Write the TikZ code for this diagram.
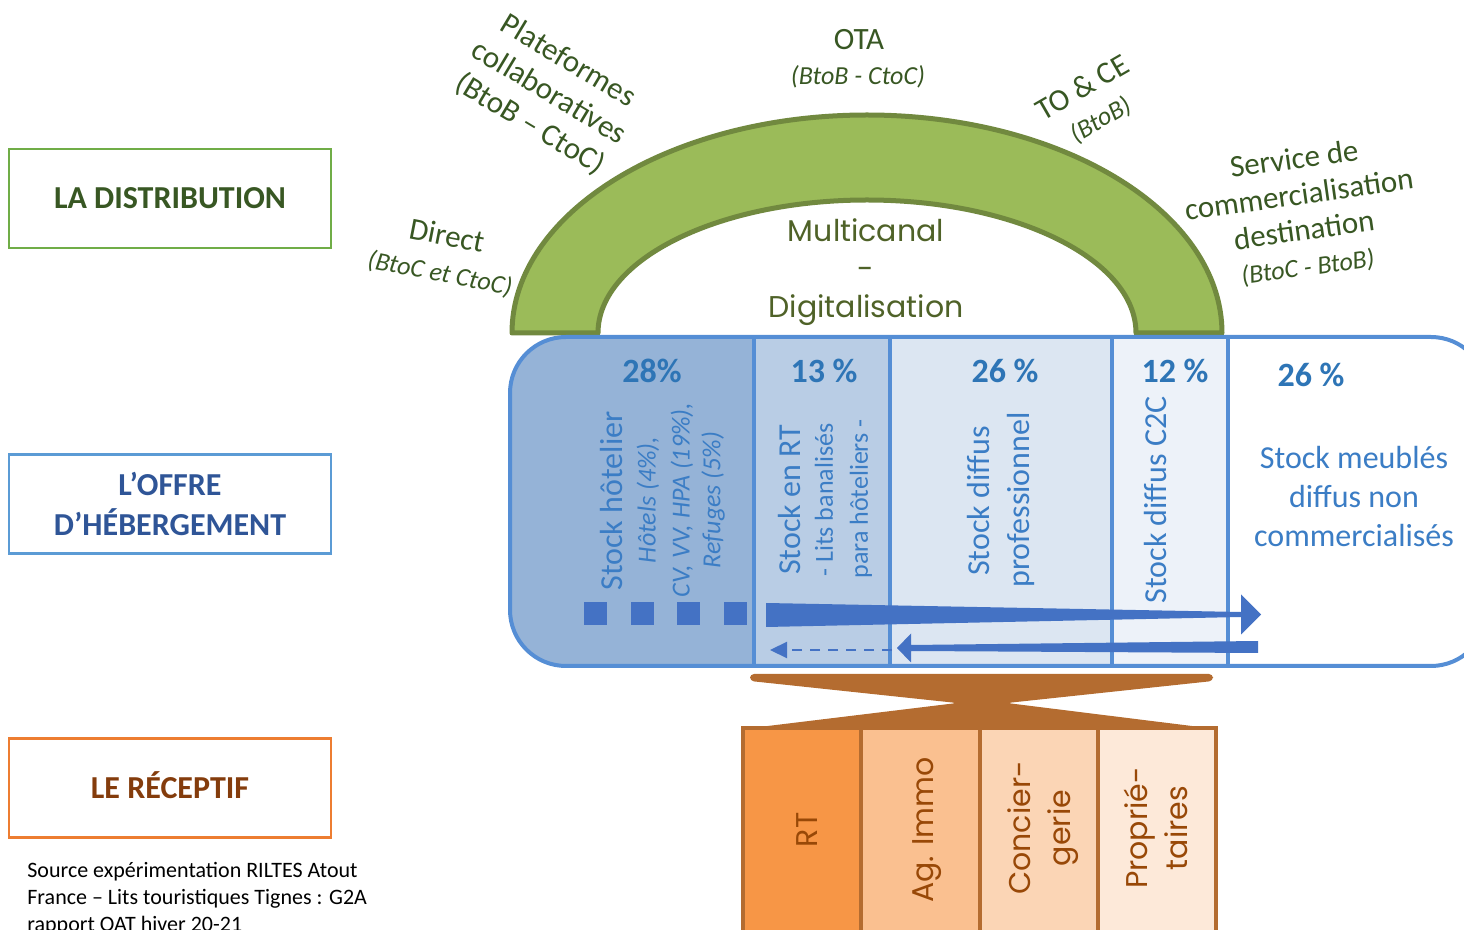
\documentclass[tikz,border=0pt]{standalone}
\usepackage{fontspec}
\setmainfont{Carlito}
\newfontfamily\gothique{Poppins}
\usetikzlibrary{arrows.meta,calc}

% Couleurs
\definecolor{vertfonce}{HTML}{385723}
\definecolor{vertarc}{HTML}{9BBB59}
\definecolor{vertbord}{HTML}{71893F}
\definecolor{olive}{HTML}{4F6228}
\definecolor{vertcadre}{HTML}{70AD47}
\definecolor{bleucadre}{HTML}{5B9BD5}
\definecolor{bleufonce}{HTML}{2F5597}
\definecolor{bleutrait}{HTML}{558ED5}
\definecolor{bleupct}{HTML}{2E75B6}
\definecolor{bleutexte}{HTML}{3B7DC5}
\definecolor{bleuA}{HTML}{95B3D7}
\definecolor{bleuB}{HTML}{B9CDE5}
\definecolor{bleuC}{HTML}{DCE6F2}
\definecolor{bleuD}{HTML}{EDF2F9}
\definecolor{fleche}{HTML}{4472C4}
\definecolor{orangecadre}{HTML}{ED7D31}
\definecolor{brunfonce}{HTML}{843C0C}
\definecolor{brun}{HTML}{B46C30}
\definecolor{bruntexte}{HTML}{984807}
\definecolor{orangeA}{HTML}{F79646}
\definecolor{orangeB}{HTML}{FAC090}
\definecolor{orangeC}{HTML}{FBD5B5}
\definecolor{orangeD}{HTML}{FDE9D9}

\begin{document}
\begin{tikzpicture}[x=0.5pt, y=-0.5pt,
categorie/.style={rectangle, draw, line width=1.2pt, minimum width=161pt, minimum height=49.5pt, align=center, font=\fontsize{16}{20}\selectfont\bfseries},
canal/.style={text=vertfonce, align=center, font=\fontsize{15.5}{18.5}\selectfont},
canalsub/.style={text=vertfonce, align=center, font=\fontsize{13}{15}\selectfont\itshape},
pct/.style={text=bleupct, font=\fontsize{17}{20}\selectfont\bfseries},
stock/.style={text=bleutexte, rotate=90, font=\fontsize{16}{19.5}\selectfont},
stocksub/.style={text=bleutexte, rotate=90, font=\fontsize{13}{16}\selectfont},
stockital/.style={stocksub, font=\fontsize{13}{16}\selectfont\itshape},
colonne/.style={rectangle, inner sep=0pt, minimum height=164.5pt},
trait/.style={draw=bleutrait, line width=2pt},
flux/.style={fill=fleche},
carre/.style={rectangle, fill=fleche, inner sep=0pt, minimum size=11.5pt},
pointille/.style={draw=fleche, line width=1.1pt, dash pattern=on 5pt off 4pt, -{Triangle[length=8.5pt,width=8pt]}},
recep/.style={rectangle, draw=brun, line width=2pt, inner sep=0pt, minimum width=59.125pt, minimum height=103.5pt},
receptxt/.style={rotate=90, align=center, text=bruntexte, font=\gothique\fontsize{15}{20}\selectfont},
]
    % Cadre de la page
    \useasboundingbox (0,0) rectangle (1464,930);
    \clip (0,0) rectangle (1464,930);

    % Longueurs et espacement
    \def\pas{46.7}
    \def\largeur{118.25}

    % Les trois niveaux
    \node [categorie, draw=vertcadre, text=vertfonce] (distribution) at (170,198.5) {LA DISTRIBUTION};
    \node [categorie, draw=bleucadre, text=bleufonce] (offre) at (170,504) {L’OFFRE\\D’HÉBERGEMENT};
    \node [categorie, draw=orangecadre, text=brunfonce, text height=10.3pt] (receptif) at (170,788) {LE RÉCEPTIF};
    \node [anchor=north west, inner sep=0pt, align=left, font=\fontsize{11}{13.5}\selectfont] (source) at (27,862)
        {Source expérimentation RILTES Atout\\France – Lits touristiques Tignes : G2A\\rapport OAT hiver 20-21};

    % Arche de la distribution
    \draw [fill=vertarc, draw=vertbord, line width=2.5pt, line join=round]
        (512,333) arc [start angle=180, end angle=0, x radius=177.5pt, y radius=109pt]
        -- (1136,333) arc [start angle=0, end angle=180, x radius=134.5pt, y radius=66.5pt] -- cycle;
    \node [text=olive, align=center, font=\gothique\fontsize{15}{19}\selectfont] (multicanal) at (866,272) {Multicanal\\-\\Digitalisation};

    % Canaux
    \node [canal, rotate=-11] (direct) at (447,235) {Direct};
    \node [canalsub, rotate=-11] (directsub) at (440,274) {(BtoC et CtoC)};
    \node [canal, rotate=-31] (plateformes) at (549,93) {Plateformes\\collaboratives\\(BtoB – CtoC)};
    \node [canal, anchor=base] (ota) at (859,50) {OTA};
    \node [canalsub, anchor=base] (otasub) at (858,85) {(BtoB - CtoC)};
    \node [canal, rotate=30] (toce) at (1082,87) {TO \& CE};
    \node [canalsub, rotate=30] (tocesub) at (1101,120) {(BtoB)};
    \node [canal, rotate=8, font=\fontsize{15.5}{18}\selectfont] (service) at (1299,194) {Service de\\commercialisation\\destination};
    \node [canalsub, rotate=8] (servicesub) at (1308,268) {(BtoC - BtoB)};

    % Colonnes du stock
    \begin{scope}
        \clip [rounded corners=28pt] (510,337) rectangle (1487,666);
        \node [colonne, fill=bleuA, minimum width=122pt] (hotel) at (632,501.5) {};
        \node [colonne, fill=bleuB, minimum width=68pt] (residence) at (822,501.5) {};
        \node [colonne, fill=bleuC, minimum width=111pt] (pro) at (1001,501.5) {};
        \node [colonne, fill=bleuD, minimum width=58pt] (ctoc) at (1170,501.5) {};
        \node [colonne, fill=white, minimum width=129.5pt] (meubles) at (1357.5,501.5) {};
    \end{scope}
    \foreach \c in {hotel, residence, pro, ctoc}
        \draw [trait] (\c.north east) -- (\c.south east);
    \draw [trait, rounded corners=28pt] (510,337) rectangle (1487,666);

    % Pourcentages
    \node [pct] (pcthotel) at (652,371) {28\%};
    \node [pct] (pctresidence) at (824,371) {13 \%};
    \node [pct] (pctpro) at (1005,371) {26 \%};
    \node [pct] (pctctoc) at (1175,371) {12 \%};
    \node [pct] (pctmeubles) at (1311,375) {26 \%};

    % Textes des colonnes
    \node [stock] (txthotel) at (612,501) {Stock hôtelier};
    \node [stockital] (txthotels) at (648,500) {Hôtels (4\%),};
    \node [stockital] (txtcv) at (682,500) {CV, VV, HPA (19\%),};
    \node [stockital] (txtrefuges) at (713,500) {Refuges (5\%)};
    \node [stock] (txtrt) at (790,500) {Stock en RT};
    \node [stocksub] (txtlits) at (824,500) {- Lits banalisés};
    \node [stocksub] (txtpara) at (861,499) {para hôteliers -};
    \node [stock] (txtdiffus) at (979,501) {Stock diffus};
    \node [stock] (txtpro) at (1021,500) {professionnel};
    \node [stock] (txtctoc) at (1155,500) {Stock diffus C2C};
    \node [text=bleutexte, align=center, font=\fontsize{16}{19.5}\selectfont] (txtmeubles) at (1354,497)
        {Stock meublés\\diffus non\\commercialisés};

    % Flux entre les stocks
    \foreach \i in {0,...,3}
        \node [carre] (carre\i) at (595.5+\pas*\i,613.5) {};
    \coordinate (departRT) at (766,615);
    \coordinate (pointeMeuble) at (1241,614.5);
    \fill [flux] ($(departRT)+(0,-12)$) -- ($(pointeMeuble)+(0,-2.5)$) -- ($(pointeMeuble)+(0,-20)$)
        -- ($(pointeMeuble)+(20,0)$) -- ($(pointeMeuble)+(0,20)$) -- ($(pointeMeuble)+(0,2.5)$)
        -- ($(departRT)+(0,12)$) -- cycle;
    \coordinate (departMeuble) at (1258,647);
    \coordinate (pointeDiffus) at (911,648);
    \fill [flux] ($(departMeuble)+(0,-6)$) -- ($(pointeDiffus)+(0,-3)$) -- ($(pointeDiffus)+(0,-14.5)$)
        -- ($(pointeDiffus)+(-14,0)$) -- ($(pointeDiffus)+(0,14.5)$) -- ($(pointeDiffus)+(0,3)$)
        -- ($(departMeuble)+(0,6)$) -- cycle;
    \coordinate (finPointille) at (892,650);
    \coordinate (pointeRT) at (770,650);
    \draw [pointille] (finPointille) -- (pointeRT);

    % Liaison vers le réceptif
    \fill [brun, rounded corners=2pt] (750,674) -- (1213,674) -- (1213,681) -- (1007,703) -- (1216,729)
        -- (743,729) -- (957,703) -- (750,681) -- cycle;

    % Acteurs du réceptif
    \node [recep, fill=orangeA] (rt) at (743+0.5*\largeur,831.5) {};
    \node [recep, fill=orangeB] (agence) at (743+1.5*\largeur,831.5) {};
    \node [recep, fill=orangeC] (conciergerie) at (743+2.5*\largeur,831.5) {};
    \node [recep, fill=orangeD] (proprietaires) at (743+3.5*\largeur,831.5) {};
    \node [receptxt] (txtrt2) at (807,830) {RT};
    \node [receptxt] (txtagence) at (927,830) {Ag. Immo};
    \node [receptxt] (txtconciergerie) at (1043,828) {Concier-\\gerie};
    \node [receptxt] (txtproprietaires) at (1156,828) {Proprié-\\taires};
\end{tikzpicture}
\end{document}
